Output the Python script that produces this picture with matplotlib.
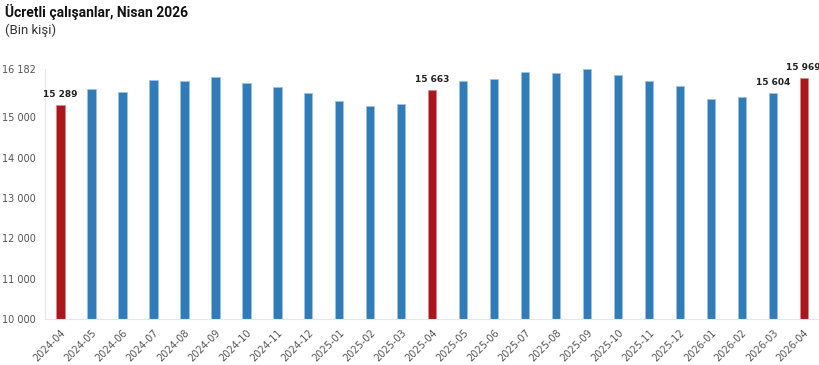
import matplotlib.pyplot as plt

# veri: ucretli calisanlar (bin kisi)
months = ['2024-04', '2024-05', '2024-06', '2024-07', '2024-08', '2024-09', '2024-10',
          '2024-11', '2024-12', '2025-01', '2025-02', '2025-03', '2025-04', '2025-05',
          '2025-06', '2025-07', '2025-08', '2025-09', '2025-10', '2025-11', '2025-12',
          '2026-01', '2026-02', '2026-03', '2026-04']
values = [15289, 15697, 15612, 15910, 15903, 15985, 15853, 15746, 15587, 15405, 15285,
          15313, 15663, 15886, 15935, 16110, 16085, 16182, 16035, 15903, 15771, 15455,
          15505, 15604, 15969]
highlight = ['2024-04', '2025-04', '2026-04']
labeled = ['2024-04', '2025-04', '2026-03', '2026-04']
yticks = [10000, 11000, 12000, 13000, 14000, 15000, 16182]

blue = '#2f7cb9'
red = '#ab151b'

fig = plt.figure(figsize=(8.2, 3.65), dpi=100)
ax = fig.add_axes([0.055, 0.125, 0.944, 0.685])

x = list(range(len(months)))
colors = [red if m in highlight else blue for m in months]
edges = ['#d98a8c' if m in highlight else '#9cc3e4' for m in months]
ax.bar(x, values, width=0.27, color=colors, edgecolor=edges, linewidth=0.6, zorder=2)

for i, (m, v) in enumerate(zip(months, values)):
    if m in labeled:
        ax.text(i, v + 150, f'{v:,}'.replace(',', ' '), ha='center', va='bottom',
                fontsize=6.5, fontweight='bold', color='#222222', clip_on=False)

ax.set_xlim(-0.5, len(months) - 0.5)
ax.set_ylim(10000, 16182)
ax.set_yticks(yticks)
ax.set_yticklabels([f'{t:,}'.replace(',', ' ') for t in yticks])
ax.set_xticks(x)
ax.set_xticklabels(months, rotation=45, ha='right', rotation_mode='anchor')
ax.tick_params(axis='both', length=0, labelsize=7, colors='#555555')
ax.tick_params(axis='y', pad=7)
ax.tick_params(axis='x', pad=6)

for s in ['top', 'right']:
    ax.spines[s].set_visible(False)
ax.spines['left'].set_color('#e6e6e6')
ax.spines['bottom'].set_color('#e6e6e6')

fig.text(0.006, 0.968, 'Ücretli çalışanlar, Nisan 2026', fontsize=10, fontweight='bold',
         family='Roboto', color='#111111', va='center', ha='left')
fig.text(0.006, 0.917, '(Bin kişi)', fontsize=9.5, family='Roboto', color='#333333',
         va='center', ha='left')

fig.savefig('out.png', dpi=100)
